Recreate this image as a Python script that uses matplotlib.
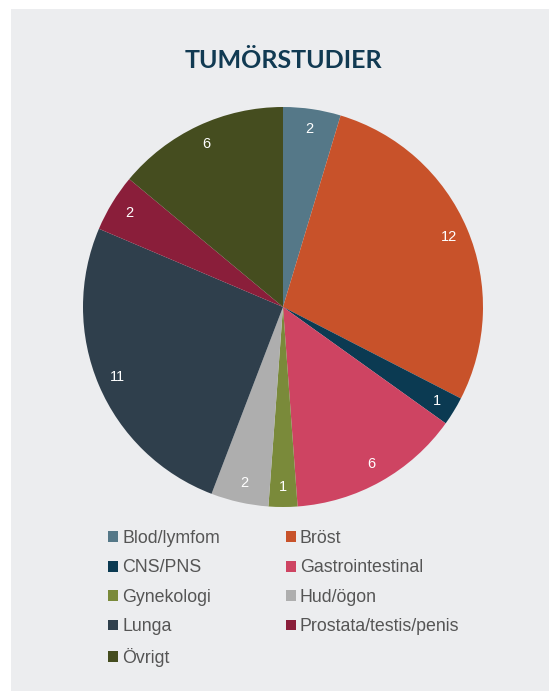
import matplotlib.pyplot as plt
from matplotlib.patches import Rectangle, Patch

categories = ['Blod/lymfom', 'Bröst', 'CNS/PNS', 'Gastrointestinal', 'Gynekologi',
              'Hud/ögon', 'Lunga', 'Prostata/testis/penis', 'Övrigt']
values = [2, 12, 1, 6, 1, 2, 11, 2, 6]
colors = ['#557888', '#C8522A', '#0B3A52', '#CE4462', '#7A8A3A',
          '#AEAEAE', '#2F3F4C', '#8A1E3A', '#454D1F']

W, H = 549, 691
fig = plt.figure(figsize=(W / 100, H / 100), dpi=100)
fig.patch.set_facecolor('white')
fig.patches.append(Rectangle((11 / W, 0), 1 - 11 / W, 1 - 9 / H, transform=fig.transFigure,
                             facecolor='#ECEDEF', edgecolor='none', zorder=-5))

fig.text(283 / W, 1 - 61 / H, 'TUMÖRSTUDIER', ha='center', va='center',
         fontsize=18, fontweight='bold', color='#113A52', family='Lato')

cx, cy, r = 283, 307, 200
ax = fig.add_axes([(cx - r) / W, 1 - (cy + r) / H, 2 * r / W, 2 * r / H])
wedges, texts = ax.pie(values, colors=colors, startangle=90, counterclock=False,
                       labels=[str(v) for v in values], labeldistance=0.9,
                       wedgeprops=dict(linewidth=0),
                       textprops=dict(color='white', fontsize=10.5, family='Liberation Sans'))
for t in texts:
    t.set_ha('center')
    t.set_va('center')
ax.set_aspect('equal')
ax.set_xlim(-1, 1)
ax.set_ylim(-1, 1)
ax.axis('off')

order = [0, 2, 4, 6, 8, 1, 3, 5, 7]
handles = [Patch(facecolor=colors[i], edgecolor='none') for i in order]
labels = [categories[i] for i in order]
fig.legend(handles, labels, ncol=2, loc='upper left', bbox_to_anchor=(92 / W, 1 - 514 / H),
           frameon=False, handlelength=0.55, handleheight=0.55,
           handletextpad=0.25, columnspacing=3.7, labelspacing=0.7,
           labelcolor='#555555', prop=dict(family='Liberation Sans', size=12.8))

fig.savefig('out.png', dpi=100, facecolor='white')
